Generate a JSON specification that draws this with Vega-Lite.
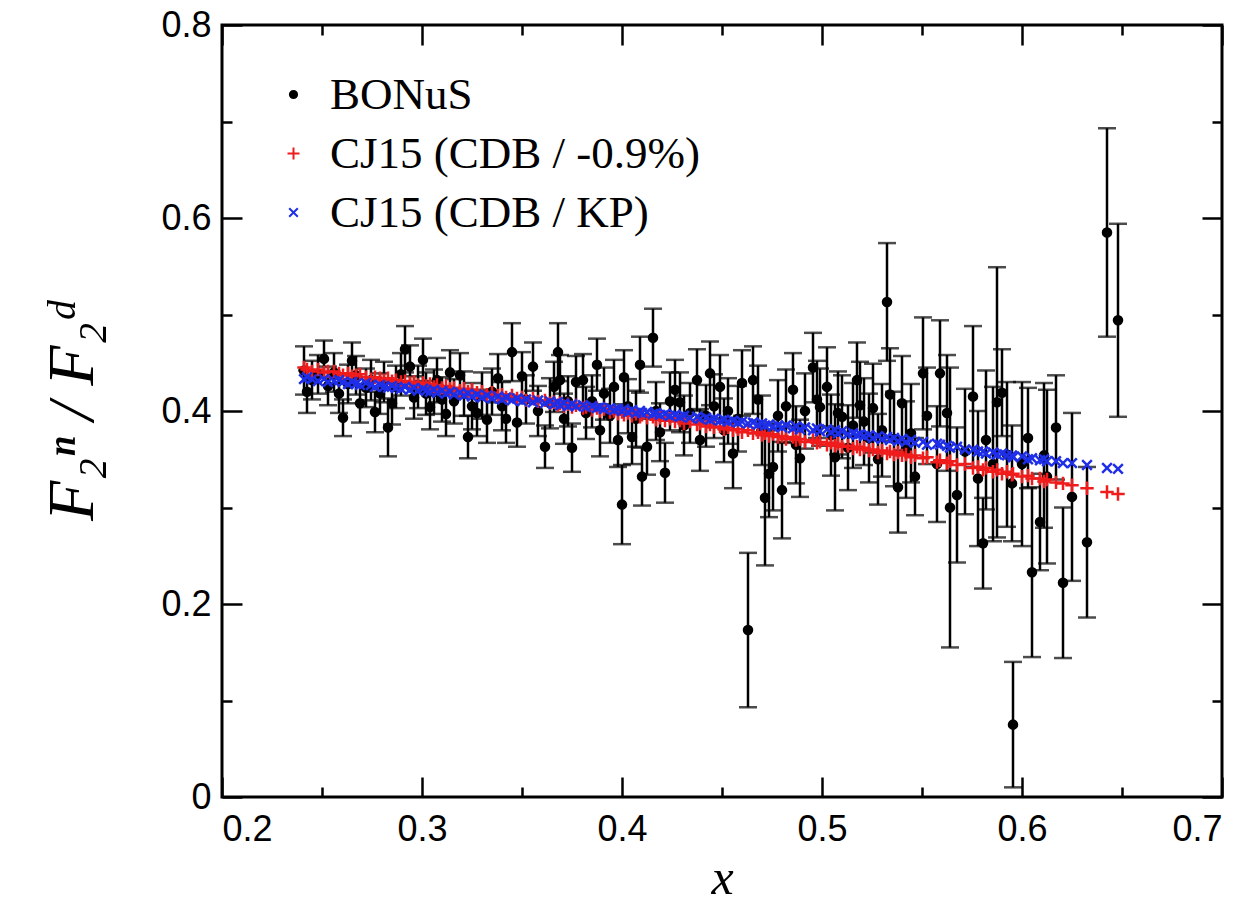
{
"$schema": "https://vega.github.io/schema/vega-lite/v6.json",
"width": 1000,
"height": 772,
"autosize": {"type": "none"},
"padding": {"left": 222, "top": 25, "right": 36, "bottom": 108},
"background": "white",
"config": {
  "view": {"stroke": "black", "strokeWidth": 3},
  "axis": {"grid": false, "domain": false, "tickColor": "black", "tickWidth": 2.5, "labelFont": "Liberation Sans", "labelFontSize": 36, "labelColor": "black", "titleColor": "black"},
  "legend": {"orient": "none", "legendX": 49, "legendY": 47, "labelFont": "Liberation Serif", "labelFontSize": 45, "labelColor": "black", "labelLimit": 0, "symbolSize": 144, "symbolStrokeWidth": 2, "labelOffset": 14, "rowPadding": 13}
},
"data": {"values": [
{"x":0.2410,"bonus":0.442,"err":0.025,"cdb09":0.445,"cdbkp":0.433},
{"x":0.2425,"bonus":0.420,"err":0.022,"cdb09":0.443,"cdbkp":0.435},
{"x":0.2450,"bonus":0.432,"err":0.020,"cdb09":0.441,"cdbkp":0.433},
{"x":0.2480,"bonus":0.438,"err":0.020,"cdb09":0.443,"cdbkp":0.431},
{"x":0.2510,"bonus":0.454,"err":0.019,"cdb09":0.440,"cdbkp":0.433},
{"x":0.2530,"bonus":0.426,"err":0.020,"cdb09":0.441,"cdbkp":0.430},
{"x":0.2560,"bonus":0.440,"err":0.020,"cdb09":0.441,"cdbkp":0.431},
{"x":0.2585,"bonus":0.418,"err":0.020,"cdb09":0.439,"cdbkp":0.432},
{"x":0.2605,"bonus":0.393,"err":0.019,"cdb09":0.437,"cdbkp":0.430},
{"x":0.2630,"bonus":0.428,"err":0.020,"cdb09":0.439,"cdbkp":0.428},
{"x":0.2650,"bonus":0.452,"err":0.019,"cdb09":0.436,"cdbkp":0.430},
{"x":0.2670,"bonus":0.437,"err":0.020,"cdb09":0.437,"cdbkp":0.428},
{"x":0.2690,"bonus":0.408,"err":0.020,"cdb09":0.438,"cdbkp":0.427},
{"x":0.2720,"bonus":0.424,"err":0.020,"cdb09":0.435,"cdbkp":0.429},
{"x":0.2745,"bonus":0.432,"err":0.021,"cdb09":0.433,"cdbkp":0.427},
{"x":0.2765,"bonus":0.399,"err":0.021,"cdb09":0.435,"cdbkp":0.425},
{"x":0.2790,"bonus":0.418,"err":0.021,"cdb09":0.434,"cdbkp":0.427},
{"x":0.2810,"bonus":0.430,"err":0.021,"cdb09":0.432,"cdbkp":0.425},
{"x":0.2830,"bonus":0.383,"err":0.030,"cdb09":0.434,"cdbkp":0.424},
{"x":0.2850,"bonus":0.408,"err":0.022,"cdb09":0.431,"cdbkp":0.426},
{"x":0.2870,"bonus":0.425,"err":0.022,"cdb09":0.432,"cdbkp":0.424},
{"x":0.2895,"bonus":0.438,"err":0.022,"cdb09":0.430,"cdbkp":0.423},
{"x":0.2915,"bonus":0.464,"err":0.024,"cdb09":0.431,"cdbkp":0.425},
{"x":0.2940,"bonus":0.446,"err":0.022,"cdb09":0.429,"cdbkp":0.422},
{"x":0.2960,"bonus":0.414,"err":0.022,"cdb09":0.430,"cdbkp":0.424},
{"x":0.2980,"bonus":0.425,"err":0.022,"cdb09":0.427,"cdbkp":0.421},
{"x":0.3005,"bonus":0.453,"err":0.022,"cdb09":0.429,"cdbkp":0.423},
{"x":0.3020,"bonus":0.418,"err":0.022,"cdb09":0.426,"cdbkp":0.421},
{"x":0.3040,"bonus":0.404,"err":0.023,"cdb09":0.428,"cdbkp":0.420},
{"x":0.3060,"bonus":0.420,"err":0.023,"cdb09":0.425,"cdbkp":0.422},
{"x":0.3075,"bonus":0.432,"err":0.023,"cdb09":0.427,"cdbkp":0.419},
{"x":0.3100,"bonus":0.412,"err":0.023,"cdb09":0.424,"cdbkp":0.421},
{"x":0.3120,"bonus":0.397,"err":0.023,"cdb09":0.426,"cdbkp":0.418},
{"x":0.3140,"bonus":0.440,"err":0.023,"cdb09":0.423,"cdbkp":0.420},
{"x":0.3160,"bonus":0.410,"err":0.023,"cdb09":0.424,"cdbkp":0.417},
{"x":0.3190,"bonus":0.437,"err":0.023,"cdb09":0.421,"cdbkp":0.419},
{"x":0.3210,"bonus":0.418,"err":0.023,"cdb09":0.423,"cdbkp":0.416},
{"x":0.3230,"bonus":0.373,"err":0.022,"cdb09":0.420,"cdbkp":0.418},
{"x":0.3250,"bonus":0.405,"err":0.024,"cdb09":0.422,"cdbkp":0.415},
{"x":0.3275,"bonus":0.398,"err":0.024,"cdb09":0.419,"cdbkp":0.417},
{"x":0.3300,"bonus":0.416,"err":0.024,"cdb09":0.420,"cdbkp":0.414},
{"x":0.3325,"bonus":0.391,"err":0.024,"cdb09":0.417,"cdbkp":0.416},
{"x":0.3350,"bonus":0.420,"err":0.024,"cdb09":0.419,"cdbkp":0.413},
{"x":0.3380,"bonus":0.434,"err":0.025,"cdb09":0.416,"cdbkp":0.415},
{"x":0.3400,"bonus":0.405,"err":0.025,"cdb09":0.417,"cdbkp":0.412},
{"x":0.3420,"bonus":0.392,"err":0.025,"cdb09":0.414,"cdbkp":0.414},
{"x":0.3450,"bonus":0.461,"err":0.030,"cdb09":0.416,"cdbkp":0.411},
{"x":0.3475,"bonus":0.388,"err":0.025,"cdb09":0.413,"cdbkp":0.413},
{"x":0.3500,"bonus":0.436,"err":0.025,"cdb09":0.414,"cdbkp":0.410},
{"x":0.3520,"bonus":0.412,"err":0.025,"cdb09":0.411,"cdbkp":0.412},
{"x":0.3555,"bonus":0.446,"err":0.025,"cdb09":0.413,"cdbkp":0.409},
{"x":0.3580,"bonus":0.400,"err":0.026,"cdb09":0.410,"cdbkp":0.411},
{"x":0.3615,"bonus":0.363,"err":0.022,"cdb09":0.411,"cdbkp":0.408},
{"x":0.3640,"bonus":0.408,"err":0.026,"cdb09":0.408,"cdbkp":0.410},
{"x":0.3660,"bonus":0.425,"err":0.026,"cdb09":0.409,"cdbkp":0.407},
{"x":0.3680,"bonus":0.461,"err":0.030,"cdb09":0.406,"cdbkp":0.409},
{"x":0.3690,"bonus":0.432,"err":0.026,"cdb09":0.408,"cdbkp":0.406},
{"x":0.3710,"bonus":0.392,"err":0.026,"cdb09":0.405,"cdbkp":0.408},
{"x":0.3730,"bonus":0.410,"err":0.026,"cdb09":0.407,"cdbkp":0.405},
{"x":0.3750,"bonus":0.362,"err":0.025,"cdb09":0.404,"cdbkp":0.407},
{"x":0.3770,"bonus":0.430,"err":0.027,"cdb09":0.406,"cdbkp":0.405},
{"x":0.3805,"bonus":0.432,"err":0.027,"cdb09":0.403,"cdbkp":0.406},
{"x":0.3820,"bonus":0.398,"err":0.027,"cdb09":0.404,"cdbkp":0.404},
{"x":0.3850,"bonus":0.410,"err":0.027,"cdb09":0.401,"cdbkp":0.405},
{"x":0.3875,"bonus":0.448,"err":0.027,"cdb09":0.403,"cdbkp":0.403},
{"x":0.3890,"bonus":0.380,"err":0.027,"cdb09":0.400,"cdbkp":0.404},
{"x":0.3910,"bonus":0.418,"err":0.027,"cdb09":0.402,"cdbkp":0.402},
{"x":0.3940,"bonus":0.395,"err":0.028,"cdb09":0.399,"cdbkp":0.403},
{"x":0.3960,"bonus":0.425,"err":0.028,"cdb09":0.400,"cdbkp":0.401},
{"x":0.3980,"bonus":0.370,"err":0.028,"cdb09":0.397,"cdbkp":0.402},
{"x":0.4000,"bonus":0.303,"err":0.041,"cdb09":0.399,"cdbkp":0.400},
{"x":0.4010,"bonus":0.435,"err":0.028,"cdb09":0.396,"cdbkp":0.402},
{"x":0.4030,"bonus":0.405,"err":0.028,"cdb09":0.398,"cdbkp":0.399},
{"x":0.4050,"bonus":0.373,"err":0.028,"cdb09":0.395,"cdbkp":0.401},
{"x":0.4070,"bonus":0.392,"err":0.029,"cdb09":0.397,"cdbkp":0.398},
{"x":0.4090,"bonus":0.448,"err":0.029,"cdb09":0.394,"cdbkp":0.400},
{"x":0.4100,"bonus":0.332,"err":0.030,"cdb09":0.396,"cdbkp":0.398},
{"x":0.4125,"bonus":0.363,"err":0.029,"cdb09":0.393,"cdbkp":0.399},
{"x":0.4155,"bonus":0.476,"err":0.030,"cdb09":0.394,"cdbkp":0.397},
{"x":0.4170,"bonus":0.400,"err":0.030,"cdb09":0.391,"cdbkp":0.398},
{"x":0.4190,"bonus":0.378,"err":0.030,"cdb09":0.393,"cdbkp":0.396},
{"x":0.4215,"bonus":0.336,"err":0.031,"cdb09":0.390,"cdbkp":0.397},
{"x":0.4240,"bonus":0.410,"err":0.030,"cdb09":0.392,"cdbkp":0.395},
{"x":0.4265,"bonus":0.422,"err":0.031,"cdb09":0.389,"cdbkp":0.396},
{"x":0.4290,"bonus":0.409,"err":0.031,"cdb09":0.390,"cdbkp":0.394},
{"x":0.4310,"bonus":0.385,"err":0.031,"cdb09":0.387,"cdbkp":0.395},
{"x":0.4340,"bonus":0.398,"err":0.031,"cdb09":0.389,"cdbkp":0.393},
{"x":0.4375,"bonus":0.432,"err":0.032,"cdb09":0.386,"cdbkp":0.394},
{"x":0.4390,"bonus":0.370,"err":0.032,"cdb09":0.387,"cdbkp":0.392},
{"x":0.4420,"bonus":0.395,"err":0.032,"cdb09":0.384,"cdbkp":0.393},
{"x":0.4440,"bonus":0.439,"err":0.033,"cdb09":0.386,"cdbkp":0.391},
{"x":0.4460,"bonus":0.405,"err":0.033,"cdb09":0.383,"cdbkp":0.392},
{"x":0.4490,"bonus":0.425,"err":0.033,"cdb09":0.384,"cdbkp":0.390},
{"x":0.4510,"bonus":0.380,"err":0.033,"cdb09":0.381,"cdbkp":0.391},
{"x":0.4530,"bonus":0.400,"err":0.034,"cdb09":0.383,"cdbkp":0.389},
{"x":0.4555,"bonus":0.356,"err":0.036,"cdb09":0.380,"cdbkp":0.390},
{"x":0.4580,"bonus":0.392,"err":0.034,"cdb09":0.381,"cdbkp":0.388},
{"x":0.4600,"bonus":0.429,"err":0.034,"cdb09":0.378,"cdbkp":0.389},
{"x":0.4630,"bonus":0.173,"err":0.080,"cdb09":0.380,"cdbkp":0.387},
{"x":0.4655,"bonus":0.432,"err":0.035,"cdb09":0.377,"cdbkp":0.388},
{"x":0.4680,"bonus":0.412,"err":0.035,"cdb09":0.378,"cdbkp":0.386},
{"x":0.4700,"bonus":0.380,"err":0.036,"cdb09":0.375,"cdbkp":0.387},
{"x":0.4715,"bonus":0.310,"err":0.070,"cdb09":0.377,"cdbkp":0.385},
{"x":0.4735,"bonus":0.335,"err":0.045,"cdb09":0.374,"cdbkp":0.386},
{"x":0.4755,"bonus":0.342,"err":0.045,"cdb09":0.376,"cdbkp":0.384},
{"x":0.4780,"bonus":0.395,"err":0.037,"cdb09":0.373,"cdbkp":0.385},
{"x":0.4800,"bonus":0.318,"err":0.050,"cdb09":0.374,"cdbkp":0.383},
{"x":0.4820,"bonus":0.405,"err":0.038,"cdb09":0.371,"cdbkp":0.385},
{"x":0.4855,"bonus":0.422,"err":0.038,"cdb09":0.373,"cdbkp":0.382},
{"x":0.4870,"bonus":0.365,"err":0.040,"cdb09":0.370,"cdbkp":0.384},
{"x":0.4890,"bonus":0.351,"err":0.040,"cdb09":0.371,"cdbkp":0.381},
{"x":0.4915,"bonus":0.400,"err":0.039,"cdb09":0.368,"cdbkp":0.383},
{"x":0.4955,"bonus":0.445,"err":0.036,"cdb09":0.370,"cdbkp":0.380},
{"x":0.4975,"bonus":0.412,"err":0.040,"cdb09":0.367,"cdbkp":0.382},
{"x":0.4990,"bonus":0.404,"err":0.040,"cdb09":0.368,"cdbkp":0.379},
{"x":0.5025,"bonus":0.425,"err":0.041,"cdb09":0.365,"cdbkp":0.381},
{"x":0.5045,"bonus":0.375,"err":0.042,"cdb09":0.367,"cdbkp":0.378},
{"x":0.5065,"bonus":0.352,"err":0.055,"cdb09":0.364,"cdbkp":0.380},
{"x":0.5080,"bonus":0.398,"err":0.043,"cdb09":0.366,"cdbkp":0.377},
{"x":0.5100,"bonus":0.394,"err":0.043,"cdb09":0.363,"cdbkp":0.379},
{"x":0.5130,"bonus":0.362,"err":0.044,"cdb09":0.364,"cdbkp":0.376},
{"x":0.5155,"bonus":0.385,"err":0.044,"cdb09":0.361,"cdbkp":0.377},
{"x":0.5175,"bonus":0.432,"err":0.039,"cdb09":0.363,"cdbkp":0.375},
{"x":0.5190,"bonus":0.406,"err":0.045,"cdb09":0.360,"cdbkp":0.376},
{"x":0.5210,"bonus":0.389,"err":0.045,"cdb09":0.362,"cdbkp":0.374},
{"x":0.5235,"bonus":0.372,"err":0.046,"cdb09":0.359,"cdbkp":0.375},
{"x":0.5255,"bonus":0.403,"err":0.046,"cdb09":0.360,"cdbkp":0.372},
{"x":0.5280,"bonus":0.350,"err":0.047,"cdb09":0.357,"cdbkp":0.374},
{"x":0.5300,"bonus":0.380,"err":0.048,"cdb09":0.359,"cdbkp":0.371},
{"x":0.5325,"bonus":0.513,"err":0.061,"cdb09":0.356,"cdbkp":0.373},
{"x":0.5340,"bonus":0.417,"err":0.048,"cdb09":0.358,"cdbkp":0.370},
{"x":0.5360,"bonus":0.371,"err":0.049,"cdb09":0.355,"cdbkp":0.372},
{"x":0.5380,"bonus":0.321,"err":0.047,"cdb09":0.357,"cdbkp":0.369},
{"x":0.5400,"bonus":0.408,"err":0.049,"cdb09":0.354,"cdbkp":0.371},
{"x":0.5420,"bonus":0.360,"err":0.050,"cdb09":0.355,"cdbkp":0.368},
{"x":0.5445,"bonus":0.377,"err":0.051,"cdb09":0.352,"cdbkp":0.370},
{"x":0.5465,"bonus":0.332,"err":0.040,"cdb09":0.354,"cdbkp":0.367},
{"x":0.5505,"bonus":0.439,"err":0.058,"cdb09":0.351,"cdbkp":0.368},
{"x":0.5525,"bonus":0.395,"err":0.050,"cdb09":0.352,"cdbkp":0.365},
{"x":0.5575,"bonus":0.345,"err":0.060,"cdb09":0.347,"cdbkp":0.366},
{"x":0.5590,"bonus":0.439,"err":0.055,"cdb09":0.349,"cdbkp":0.365},
{"x":0.5625,"bonus":0.398,"err":0.060,"cdb09":0.346,"cdbkp":0.364},
{"x":0.5640,"bonus":0.300,"err":0.145,"cdb09":0.348,"cdbkp":0.362},
{"x":0.5675,"bonus":0.313,"err":0.070,"cdb09":0.344,"cdbkp":0.363},
{"x":0.5715,"bonus":0.358,"err":0.065,"cdb09":0.345,"cdbkp":0.360},
{"x":0.5755,"bonus":0.415,"err":0.073,"cdb09":0.341,"cdbkp":0.360},
{"x":0.5780,"bonus":0.330,"err":0.070,"cdb09":0.342,"cdbkp":0.358},
{"x":0.5805,"bonus":0.263,"err":0.047,"cdb09":0.339,"cdbkp":0.358},
{"x":0.5820,"bonus":0.370,"err":0.072,"cdb09":0.341,"cdbkp":0.356},
{"x":0.5855,"bonus":0.345,"err":0.080,"cdb09":0.337,"cdbkp":0.357},
{"x":0.5875,"bonus":0.409,"err":0.140,"cdb09":0.339,"cdbkp":0.355},
{"x":0.5900,"bonus":0.419,"err":0.045,"cdb09":0.335,"cdbkp":0.356},
{"x":0.5925,"bonus":0.355,"err":0.075,"cdb09":0.337,"cdbkp":0.354},
{"x":0.5950,"bonus":0.325,"err":0.060,"cdb09":0.334,"cdbkp":0.354},
{"x":0.5955,"bonus":0.075,"err":0.065,"cdb09":0.335,"cdbkp":0.352},
{"x":0.6000,"bonus":0.345,"err":0.085,"cdb09":0.332,"cdbkp":0.353},
{"x":0.6030,"bonus":0.372,"err":0.052,"cdb09":0.333,"cdbkp":0.350},
{"x":0.6050,"bonus":0.233,"err":0.088,"cdb09":0.330,"cdbkp":0.351},
{"x":0.6090,"bonus":0.285,"err":0.050,"cdb09":0.330,"cdbkp":0.349},
{"x":0.6110,"bonus":0.354,"err":0.075,"cdb09":0.327,"cdbkp":0.350},
{"x":0.6125,"bonus":0.332,"err":0.090,"cdb09":0.329,"cdbkp":0.348},
{"x":0.6170,"bonus":0.383,"err":0.054,"cdb09":0.326,"cdbkp":0.348},
{"x":0.6205,"bonus":0.222,"err":0.078,"cdb09":0.325,"cdbkp":0.346},
{"x":0.6250,"bonus":0.311,"err":0.087,"cdb09":0.323,"cdbkp":0.346},
{"x":0.6325,"bonus":0.264,"err":0.078,"cdb09":0.320,"cdbkp":0.344},
{"x":0.6425,"bonus":0.585,"err":0.108,"cdb09":0.316,"cdbkp":0.341},
{"x":0.6480,"bonus":0.494,"err":0.100,"cdb09":0.314,"cdbkp":0.340}
]},
"layer": [
  {
    "mark": {"type": "errorbar", "color": "black", "thickness": 2.5, "size": 18, "ticks": {"size": 18, "thickness": 2.5}},
    "encoding": {
      "x": {"field": "x", "type": "quantitative", "scale": {"domain": [0.2, 0.7], "nice": false, "zero": false}, "axis": null},
      "y": {"field": "bonus", "type": "quantitative", "scale": {"domain": [0, 0.8], "nice": false, "zero": false}, "axis": null},
      "yError": {"field": "err"}
    }
  },
  {
    "transform": [{"fold": ["bonus", "cdb09", "cdbkp"], "as": ["series", "value"]}],
    "mark": {"type": "point", "filled": true, "strokeWidth": 2.5, "opacity": 1, "size": 180},
    "encoding": {
      "x": {"field": "x", "type": "quantitative", "axis": {"orient": "bottom", "values": [0.2, 0.3, 0.4, 0.5, 0.6, 0.7], "format": ".1f", "tickSize": -20, "labelPadding": 35, "labelFontSize": 36, "title": "x", "titleFont": "Liberation Serif", "titleFontStyle": "italic", "titleFontWeight": "normal", "titleFontSize": 50, "titleX": 500, "titleY": 96, "titleBaseline": "alphabetic"}},
      "y": {"field": "value", "type": "quantitative", "axis": {"orient": "left", "values": [0, 0.2, 0.4, 0.6, 0.8], "labelExpr": "datum.value == 0 ? '0' : format(datum.value, '.1f')", "tickSize": -20, "labelPadding": 31, "labelFontSize": 36, "title": "F₂ⁿ / F₂ᵈ", "titleFont": "Liberation Serif", "titleFontStyle": "italic", "titleFontWeight": "normal", "titleFontSize": 66, "titleX": -150, "titleY": 386, "titleAngle": 270, "titleAlign": "center", "titleBaseline": "middle"}},
      "color": {"field": "series", "type": "nominal", "scale": {"domain": ["bonus", "cdb09", "cdbkp"], "range": ["black", "#f01c1c", "#1f2fe8"]}, "legend": {"title": null, "labelLimit": 0, "labelExpr": "datum.label == 'bonus' ? 'BONuS' : datum.label == 'cdb09' ? 'CJ15 (CDB / -0.9%)' : 'CJ15 (CDB / KP)'"}},
      "stroke": {"field": "series", "type": "nominal", "scale": {"domain": ["bonus", "cdb09", "cdbkp"], "range": ["black", "#f01c1c", "#1f2fe8"]}, "legend": {"title": null, "labelLimit": 0, "labelExpr": "datum.label == 'bonus' ? 'BONuS' : datum.label == 'cdb09' ? 'CJ15 (CDB / -0.9%)' : 'CJ15 (CDB / KP)'"}},
      "shape": {"field": "series", "type": "nominal", "scale": {"domain": ["bonus", "cdb09", "cdbkp"], "range": ["M-0.6,0A0.6,0.6,0,1,1,0.6,0A0.6,0.6,0,1,1,-0.6,0Z", "M-1,0L1,0M0,-1L0,1", "M-0.72,-0.72L0.72,0.72M-0.72,0.72L0.72,-0.72"]}, "legend": {"title": null, "labelLimit": 0, "labelExpr": "datum.label == 'bonus' ? 'BONuS' : datum.label == 'cdb09' ? 'CJ15 (CDB / -0.9%)' : 'CJ15 (CDB / KP)'"}},
      "order": {"field": "series", "sort": "ascending"}
    }
  },
  {
    "mark": {"type": "point", "opacity": 0},
    "encoding": {
      "x": {"field": "x", "type": "quantitative", "axis": {"orient": "top", "values": [0.2, 0.3, 0.4, 0.5, 0.6, 0.7], "labels": false, "tickSize": -20, "title": null}},
      "y": {"field": "bonus", "type": "quantitative", "axis": {"orient": "right", "values": [0, 0.2, 0.4, 0.6, 0.8], "labels": false, "tickSize": -20, "title": null}}
    }
  },
  {
    "mark": {"type": "point", "opacity": 0},
    "encoding": {
      "x": {"field": "x", "type": "quantitative", "axis": {"orient": "bottom", "values": [0.25, 0.35, 0.45, 0.55, 0.65], "labels": false, "tickSize": -10, "title": null}},
      "y": {"field": "bonus", "type": "quantitative", "axis": {"orient": "left", "values": [0.1, 0.3, 0.5, 0.7], "labels": false, "tickSize": -10, "title": null}}
    }
  },
  {
    "mark": {"type": "point", "opacity": 0},
    "encoding": {
      "x": {"field": "x", "type": "quantitative", "axis": {"orient": "top", "values": [0.25, 0.35, 0.45, 0.55, 0.65], "labels": false, "tickSize": -10, "title": null}},
      "y": {"field": "bonus", "type": "quantitative", "axis": {"orient": "right", "values": [0.1, 0.3, 0.5, 0.7], "labels": false, "tickSize": -10, "title": null}}
    }
  }
],
"resolve": {"axis": {"x": "independent", "y": "independent"}}
}
